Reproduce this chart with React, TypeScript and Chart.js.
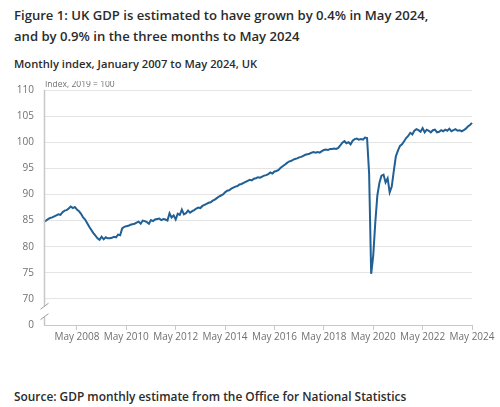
import React, { useEffect, useRef } from "react";
import { Chart, registerables } from "chart.js";

Chart.register(...registerables);

// Monthly GDP index, 2019 = 100, January 2007 to May 2024
const gdp2007 = [84.8, 85.0, 85.3, 85.5, 85.6, 85.8, 86.0, 86.2, 86.1, 86.6, 86.9, 87.0];
const gdp2008 = [87.3, 87.7, 87.4, 87.6, 87.1, 86.8, 86.3, 85.6, 85.2, 84.5, 83.8, 83.2];
const gdp2009 = [82.6, 82.1, 81.6, 81.3, 81.9, 81.4, 81.8, 81.6, 81.6, 81.7, 81.9, 81.8];
const gdp2010 = [82.3, 82.2, 83.5, 83.8, 83.9, 84.0, 84.2, 84.3, 84.4, 84.6, 84.8, 84.4];
const gdp2011 = [85.0, 84.9, 84.7, 84.4, 85.1, 84.9, 85.2, 85.3, 85.4, 85.1, 85.3, 85.2];
const gdp2012 = [85.0, 86.4, 85.6, 86.0, 85.2, 86.3, 86.1, 87.1, 86.2, 86.4, 86.9, 86.5];
const gdp2013 = [86.8, 87.0, 87.3, 87.5, 87.4, 87.8, 88.0, 88.2, 88.4, 88.5, 88.8, 89.0];
const gdp2014 = [89.3, 89.6, 89.8, 90.0, 90.4, 90.7, 90.8, 91.1, 91.3, 91.5, 91.6, 91.9];
const gdp2015 = [92.0, 92.2, 92.4, 92.6, 92.8, 92.7, 93.0, 93.1, 93.3, 93.2, 93.4, 93.6];
const gdp2016 = [93.7, 93.9, 94.2, 94.0, 94.4, 94.5, 94.7, 95.1, 95.4, 95.7, 96.0, 96.3];
const gdp2017 = [96.4, 96.6, 96.8, 96.9, 97.1, 97.2, 97.4, 97.6, 97.7, 97.8, 98.0, 98.1];
const gdp2018 = [98.0, 98.1, 98.0, 98.3, 98.5, 98.6, 98.5, 98.7, 98.7, 98.8, 98.7, 98.9];
const gdp2019 = [99.4, 99.9, 100.2, 99.8, 100.0, 99.6, 100.3, 100.6, 100.7, 100.5, 100.6, 100.5];
const gdp2020 = [100.9, 100.8, 94.0, 74.8, 78.3, 84.6, 89.8, 92.2, 93.6, 93.8, 92.3, 93.1];
const gdp2021 = [90.4, 91.5, 94.5, 97.3, 98.4, 99.3, 99.6, 100.2, 100.8, 101.2, 101.8, 101.5];
const gdp2022 = [102.2, 102.5, 102.3, 102.0, 102.7, 101.9, 102.4, 102.2, 101.9, 102.3, 102.4, 101.9];
const gdp2023 = [102.0, 102.3, 102.1, 102.4, 102.2, 102.6, 102.1, 102.3, 102.5, 102.2, 102.3, 102.1];
const gdp2024 = [102.3, 102.6, 103.0, 103.3, 103.7];

const firstYear = 2007;
const monthNames = ["Jan", "Feb", "Mar", "Apr", "May", "Jun", "Jul", "Aug", "Sep", "Oct", "Nov", "Dec"];

const gdpIndex = [
  ...gdp2007, ...gdp2008, ...gdp2009, ...gdp2010, ...gdp2011, ...gdp2012,
  ...gdp2013, ...gdp2014, ...gdp2015, ...gdp2016, ...gdp2017, ...gdp2018,
  ...gdp2019, ...gdp2020, ...gdp2021, ...gdp2022, ...gdp2023, ...gdp2024,
];

const monthLabels = gdpIndex.map(
  (_, i) => `${monthNames[i % 12]} ${firstYear + Math.floor(i / 12)}`
);

const xTickLabels = [
  "May 2008", "May 2010", "May 2012", "May 2014", "May 2016",
  "May 2018", "May 2020", "May 2022", "May 2024",
];

// Broken value axis: the lowest tick stands in for zero
const yMin = 65;
const yMax = 110;
const yStep = 5;
const yFloorLabel = "0";
const breakFrom = 68.6;
const breakTo = 66.6;

const unitLabel = "Index, 2019 = 100";
const titleLine1 = "Figure 1: UK GDP is estimated to have grown by 0.4% in May 2024,";
const titleLine2 = "and by 0.9% in the three months to May 2024";
const subtitle = "Monthly index, January 2007 to May 2024, UK";
const source = "Source: GDP monthly estimate from the Office for National Statistics";

const lineColor = "#206095";
const gridColor = "#e4e4e4";
const axisColor = "#c8c8c8";
const tickColor = "#707070";
const textColor = "#2b2b2b";
const font = '"Open Sans", "Noto Sans", sans-serif';

const axisDecor = {
  id: "axisDecor",
  afterDraw(chart: any) {
    const { ctx, chartArea, scales } = chart;
    const y = scales.y;
    const x = Math.round(chartArea.left) + 0.5;
    const gapTop = y.getPixelForValue(breakFrom);
    const gapBottom = y.getPixelForValue(breakTo);
    ctx.save();
    ctx.strokeStyle = axisColor;
    ctx.lineWidth = 1.5;
    ctx.beginPath();
    ctx.moveTo(x, chartArea.top);
    ctx.lineTo(x, gapTop);
    ctx.moveTo(x, gapBottom);
    ctx.lineTo(x, chartArea.bottom);
    ctx.stroke();
    ctx.lineWidth = 1;
    ctx.strokeStyle = "#9a9a9a";
    ctx.beginPath();
    for (const yy of [gapTop, gapBottom]) {
      ctx.moveTo(x - 4, yy + 3);
      ctx.lineTo(x + 4, yy - 3);
    }
    ctx.stroke();
    ctx.fillStyle = tickColor;
    ctx.font = `8.5px ${font}`;
    ctx.textBaseline = "alphabetic";
    ctx.textAlign = "left";
    ctx.fillText(unitLabel, chartArea.left + 1, chartArea.top - 3);
    ctx.restore();
  },
};

function GdpChart() {
  const ref = useRef<HTMLCanvasElement | null>(null);
  useEffect(() => {
    const canvas = ref.current;
    if (!canvas) return;
    const chart = new Chart(canvas, {
      type: "line",
      data: {
        labels: monthLabels,
        datasets: [
          {
            data: gdpIndex,
            borderColor: lineColor,
            borderWidth: 2,
            pointRadius: 0,
            tension: 0,
            fill: false,
          },
        ],
      },
      options: {
        responsive: false,
        animation: false,
        devicePixelRatio: 1,
        layout: { padding: { top: 9, right: 28, left: 0, bottom: 0 } },
        plugins: { legend: { display: false }, tooltip: { enabled: false } },
        scales: {
          x: {
            type: "category",
            offset: false,
            afterFit: (s: any) => {
              s.height = 25;
            },
            grid: {
              drawOnChartArea: false,
              drawTicks: true,
              tickLength: 5,
              color: axisColor,
            },
            border: { display: true, color: axisColor, width: 1 },
            ticks: {
              autoSkip: false,
              maxRotation: 0,
              minRotation: 0,
              padding: 1,
              color: tickColor,
              font: { family: font, size: 10 },
              callback: (_v: any, i: number) =>
                xTickLabels.includes(monthLabels[i]) ? monthLabels[i] : null,
            },
          },
          y: {
            min: yMin,
            max: yMax,
            afterFit: (s: any) => {
              s.width = 44;
              s.paddingTop = 0;
              s.paddingBottom = 0;
            },
            grid: {
              drawTicks: false,
              color: (c: any) => (c.tick && c.tick.value === yMin ? "rgba(0,0,0,0)" : gridColor),
            },
            border: { display: false },
            ticks: {
              stepSize: yStep,
              padding: 10,
              color: tickColor,
              font: { family: font, size: 10 },
              callback: (v: any) => (v === yMin ? yFloorLabel : String(v)),
            },
          },
        },
      },
      plugins: [axisDecor],
    });
    return () => chart.destroy();
  }, []);
  return (
    <canvas
      ref={ref}
      width={500}
      height={269}
      style={{ position: "absolute", left: 0, top: 81, width: 500, height: 269 }}
    />
  );
}

export default function App() {
  const base: React.CSSProperties = {
    position: "absolute",
    left: 14,
    whiteSpace: "nowrap",
    fontFamily: font,
    fontWeight: 600,
    color: textColor,
    margin: 0,
  };
  return (
    <div
      style={{
        position: "fixed",
        left: 0,
        top: 0,
        width: 500,
        height: 407,
        background: "#fff",
        overflow: "hidden",
      }}
    >
      <div style={{ ...base, top: 5, fontSize: 13.1, lineHeight: "21px" }}>
        {titleLine1}
        <br />
        {titleLine2}
      </div>
      <div style={{ ...base, top: 56, fontSize: 11.2, lineHeight: "16px" }}>{subtitle}</div>
      <GdpChart />
      <div style={{ ...base, top: 388, fontSize: 11.9, lineHeight: "16px" }}>{source}</div>
    </div>
  );
}
